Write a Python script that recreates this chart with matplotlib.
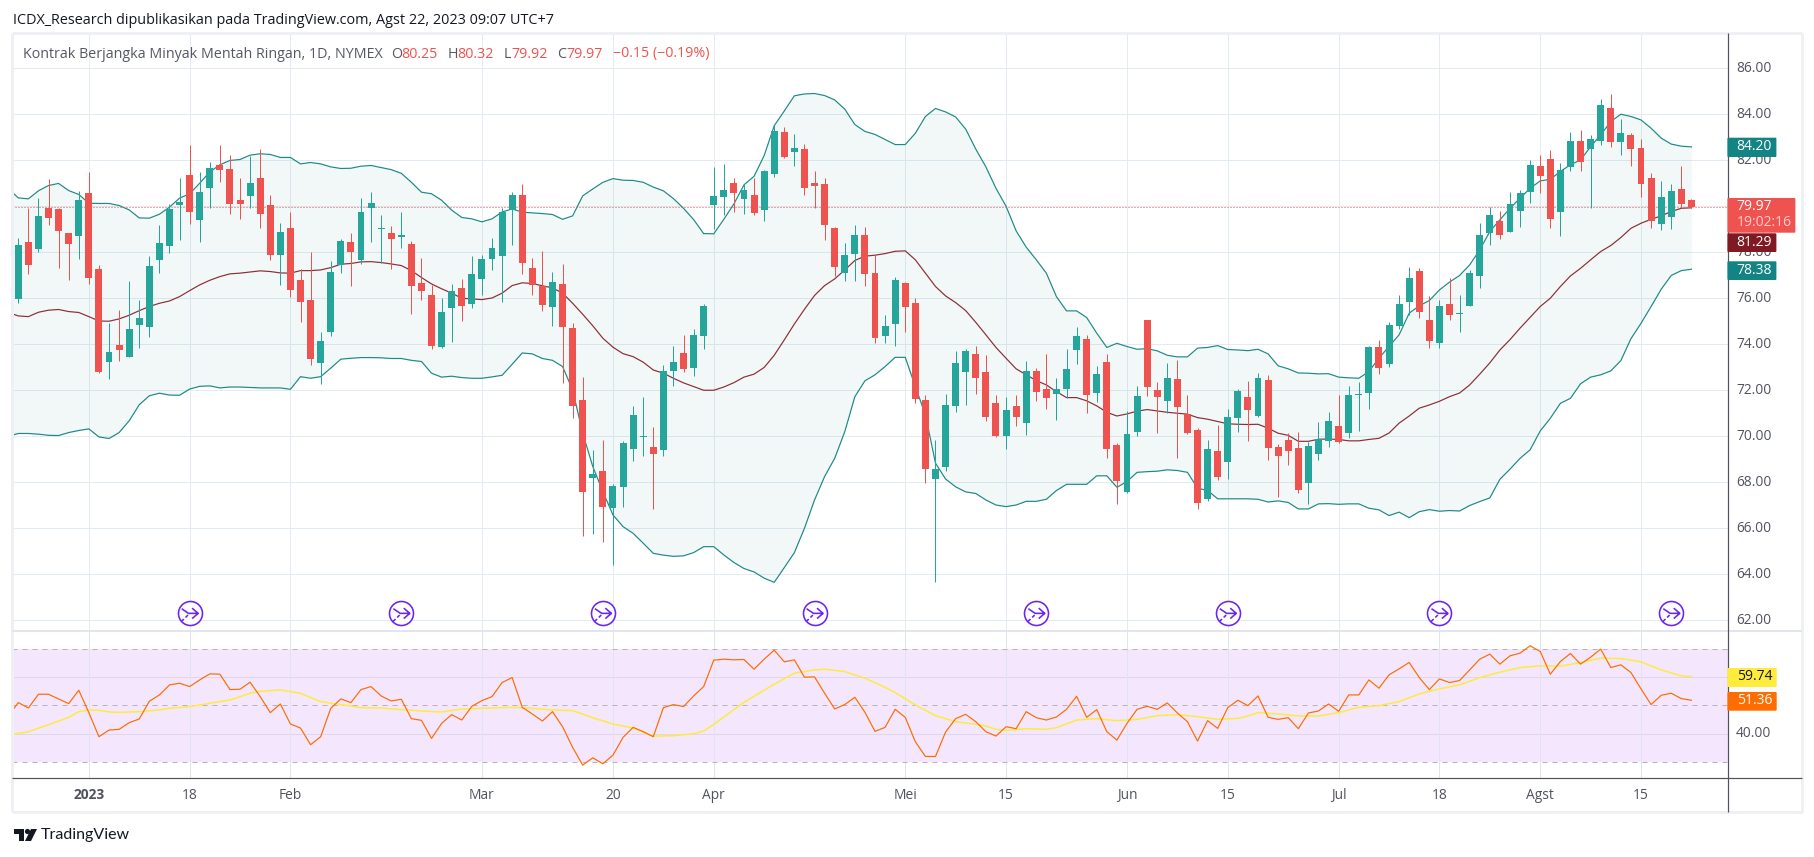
import matplotlib
matplotlib.use("Agg")
import matplotlib.pyplot as plt
import numpy as np
from matplotlib.patches import FancyBboxPatch, Polygon, Circle
from matplotlib.lines import Line2D
from matplotlib.path import Path
from matplotlib.transforms import Affine2D

opens = [75.97,78.45,78.14,79.93,79.88,78.84,78.71,80.58,77.28,73.23,73.97,73.45,74.84,74.75,77.67,78.28,80.06,81.36,79.41,80.80,
81.80,81.62,80.28,80.45,81.23,80.06,77.88,79.06,76.80,75.93,73.19,74.54,77.45,78.45,77.67,79.93,79.02,78.84,78.67,78.36,
76.67,76.14,73.88,75.58,76.45,75.75,76.84,77.71,77.84,79.84,80.49,77.32,76.54,75.62,76.62,74.71,71.58,68.19,68.49,66.88,
67.80,69.45,69.95,69.54,69.41,72.84,73.62,72.97,74.36,80.06,80.41,81.01,80.32,80.49,79.84,81.41,83.23,82.36,82.49,81.01,
80.97,79.06,77.10,77.93,78.75,77.10,74.36,74.88,76.67,75.80,71.58,68.14,68.67,71.32,72.80,73.58,72.80,71.45,70.01,71.32,
70.58,72.84,72.06,71.84,72.06,73.75,74.23,71.88,73.23,69.62,67.58,70.19,75.06,72.01,71.54,72.49,70.97,70.28,67.28,69.36,
68.88,70.80,71.71,70.88,72.45,69.54,69.84,69.49,67.97,69.23,69.80,70.45,70.14,71.80,71.88,73.88,73.14,74.80,75.84,77.19,
75.06,74.06,75.75,75.32,75.67,76.97,78.84,79.36,78.88,79.80,80.62,81.75,82.06,79.75,81.71,82.84,82.49,82.84,84.28,82.80,
83.10,82.54,81.23,79.23,79.54,80.75,80.25]
highs = [78.62,79.91,80.36,81.19,79.93,78.84,80.67,81.49,77.45,74.93,75.49,76.75,75.93,77.84,79.19,80.10,81.23,82.67,81.49,81.93,
82.67,82.23,81.23,82.19,82.49,80.49,79.28,79.75,77.28,78.01,74.54,77.62,78.58,78.84,80.36,80.62,79.62,79.14,79.75,78.49,
77.75,76.58,76.01,76.62,76.84,77.84,77.88,78.62,79.93,80.62,80.97,77.75,78.06,77.14,77.49,74.93,72.58,69.41,69.84,67.93,
69.80,71.32,71.71,70.41,73.10,73.93,74.41,74.67,75.75,81.71,81.84,81.23,80.97,81.23,81.58,83.54,83.45,83.14,82.71,81.54,
81.23,79.10,78.41,79.19,79.10,77.88,75.28,76.93,76.71,76.00,71.80,69.84,71.84,73.71,73.80,73.93,73.54,71.80,71.71,71.80,
73.28,72.97,73.58,72.54,73.80,74.75,74.41,73.06,73.58,69.71,71.10,72.19,75.06,72.36,73.19,73.32,71.80,70.36,69.84,70.49,
71.19,72.06,72.41,72.75,72.67,69.67,70.14,70.19,69.75,70.62,71.06,71.80,72.19,72.36,73.93,74.19,74.97,76.14,77.36,77.32,
76.10,75.93,76.88,76.14,77.23,79.28,79.97,79.80,80.62,80.71,82.01,82.23,82.45,81.88,83.23,83.32,83.10,84.67,84.88,83.80,
83.19,82.93,81.45,81.10,80.97,81.75,80.32]
lows = [75.80,77.06,78.01,79.19,77.32,76.80,77.71,76.62,72.75,72.49,73.28,73.45,73.84,74.32,77.10,77.97,78.54,79.23,78.45,79.93,
81.06,79.67,79.45,79.93,79.06,77.67,76.58,76.06,74.97,73.10,72.28,74.36,77.10,76.54,77.49,78.45,77.54,77.28,78.19,75.32,
75.93,73.80,73.84,74.10,75.01,75.58,76.14,77.23,75.84,78.32,77.06,76.14,75.45,74.80,72.32,70.80,65.67,65.75,65.41,64.41,
66.93,68.93,69.14,66.84,69.14,72.19,72.80,72.62,73.80,79.01,79.62,79.75,79.67,79.62,79.36,81.28,82.10,81.75,80.49,79.93,
78.54,76.97,76.75,76.75,76.54,74.06,74.06,73.93,74.54,71.45,67.97,63.67,68.49,71.06,71.36,71.84,70.67,69.97,69.45,70.45,
70.06,71.54,71.19,70.71,71.67,73.14,71.01,71.49,69.06,67.06,67.54,70.01,71.75,70.14,71.01,69.06,70.10,66.84,67.19,68.10,
68.14,70.19,69.80,70.84,68.97,67.36,68.75,67.54,67.06,68.97,69.54,69.71,69.93,70.23,71.19,72.71,73.01,74.67,75.28,75.14,
73.84,73.84,75.06,74.54,75.67,76.45,78.32,78.58,78.88,79.10,80.14,80.58,79.06,78.71,81.54,81.54,79.93,82.67,82.58,82.23,
81.75,80.41,79.06,78.97,79.01,79.93,79.92]
closes = [78.32,77.45,79.58,79.49,78.93,78.36,80.28,76.88,72.80,73.67,73.75,74.67,75.14,77.41,78.41,79.88,80.19,79.75,80.62,81.67,
81.58,80.10,80.10,81.01,79.67,77.88,78.88,76.36,75.84,73.36,74.14,77.14,78.49,78.01,79.75,80.14,79.05,78.58,78.75,76.54,
76.32,73.93,75.41,76.32,75.67,77.06,77.71,78.19,79.75,80.49,77.54,76.58,75.71,76.71,74.75,71.32,67.58,68.36,66.93,67.84,
69.71,70.93,69.97,69.23,72.84,73.23,72.93,74.41,75.67,80.45,80.71,80.58,80.71,79.71,81.54,83.28,82.14,82.54,80.80,80.88,
79.19,77.36,77.88,78.75,77.06,74.28,74.80,76.80,75.62,71.62,68.58,68.58,71.36,73.19,73.71,72.54,70.84,70.01,71.14,70.84,
72.84,71.93,71.67,72.06,72.93,74.36,71.80,72.71,69.45,68.06,70.10,71.75,72.14,71.71,72.54,71.28,70.14,67.10,69.45,68.23,
70.84,71.97,71.14,72.54,69.49,69.14,69.36,67.67,69.58,69.88,70.67,69.75,71.80,71.83,73.88,72.97,74.84,75.75,76.88,75.41,
74.14,75.67,75.28,75.32,77.10,78.75,79.62,78.75,80.10,80.58,81.80,81.32,79.45,81.58,82.84,81.93,82.93,84.41,82.80,83.19,
82.49,80.97,79.36,80.41,80.67,80.10,79.97]

band_upper = [80.77,80.36,80.32,80.67,80.90,80.99,80.68,80.51,80.13,80.12,80.12,80.03,79.84,79.49,79.48,79.65,79.96,80.35,80.54,81.00,81.49,
81.80,81.99,82.03,82.22,82.28,82.25,82.12,82.12,81.84,81.90,81.84,81.71,81.64,81.65,81.74,81.77,81.68,81.59,81.43,81.04,
80.61,80.54,80.26,79.83,79.51,79.45,79.32,79.45,79.75,79.88,79.74,79.71,79.68,79.64,79.43,79.58,80.45,80.75,81.04,81.20,
81.13,81.12,81.04,80.83,80.67,80.33,79.91,79.42,78.81,78.80,79.43,80.10,80.93,81.30,82.20,83.50,84.14,84.80,84.88,84.90,
84.81,84.62,84.22,83.55,83.25,83.12,82.90,82.68,82.68,83.17,83.90,84.25,84.10,83.88,83.35,82.48,81.71,80.78,80.00,78.93,
78.22,77.67,77.09,76.07,75.45,75.45,75.16,74.48,73.86,74.04,73.90,73.78,73.81,73.71,73.52,73.45,73.45,73.83,73.86,73.94,
73.77,73.75,73.72,73.78,73.58,73.06,72.93,72.75,72.74,72.71,72.72,72.57,72.54,72.52,72.81,73.40,73.90,74.41,75.35,75.67,
75.90,76.36,76.70,76.99,77.45,78.10,78.90,79.41,79.91,80.35,80.78,81.10,81.17,81.51,81.80,82.01,82.59,83.10,83.68,84.00,
83.90,83.75,83.39,82.96,82.70,82.61,82.58]
band_basis = [75.38,75.23,75.20,75.39,75.48,75.51,75.42,75.38,75.20,75.01,75.00,75.10,75.26,75.46,75.64,75.78,75.88,76.07,76.33,76.58,76.78,
76.94,77.06,77.09,77.14,77.19,77.16,77.10,77.09,77.20,77.20,77.23,77.33,77.48,77.51,77.58,77.59,77.55,77.49,77.42,77.20,
76.90,76.62,76.41,76.22,76.00,75.97,75.94,76.01,76.22,76.55,76.67,76.64,76.54,76.45,76.22,75.78,75.30,74.80,74.26,73.87,
73.59,73.46,73.22,72.88,72.74,72.52,72.32,72.16,72.00,72.00,72.14,72.33,72.57,72.70,72.99,73.52,74.19,74.88,75.52,76.12,
76.55,76.84,77.23,77.64,77.83,77.87,77.94,78.04,78.06,77.67,77.09,76.51,76.10,75.81,75.46,74.95,74.41,73.86,73.39,72.93,
72.67,72.42,72.23,71.94,71.68,71.68,71.54,71.32,71.04,70.88,70.97,71.09,71.16,71.10,71.04,71.00,70.96,70.81,70.74,70.64,
70.54,70.52,70.51,70.52,70.35,70.13,70.04,69.78,69.78,69.87,69.88,69.86,69.80,69.80,69.86,69.91,70.14,70.57,70.88,71.22,
71.36,71.52,71.72,71.88,72.23,72.70,73.19,73.75,74.20,74.70,75.17,75.64,76.00,76.51,76.97,77.30,77.67,78.03,78.29,78.64,
79.04,79.26,79.43,79.58,79.77,79.91,79.93]
band_lower = [70.00,70.12,70.12,70.09,70.04,70.03,70.16,70.25,70.32,69.97,69.90,70.16,70.67,71.37,71.76,71.87,71.79,71.78,72.05,72.17,72.19,
72.10,72.14,72.14,72.12,72.10,72.10,72.10,72.04,72.59,72.52,72.59,72.96,73.35,73.39,73.42,73.42,73.41,73.38,73.38,73.30,
73.25,72.74,72.57,72.61,72.55,72.52,72.52,72.58,72.65,73.13,73.62,73.58,73.38,73.30,73.03,72.01,70.13,68.68,67.59,66.58,
66.07,65.78,65.35,64.91,64.83,64.78,64.80,64.94,65.20,65.20,64.84,64.51,64.25,64.10,63.83,63.65,64.29,64.94,66.00,67.23,
68.25,69.04,70.20,71.72,72.41,72.67,73.03,73.43,73.43,72.16,70.93,68.83,68.14,67.80,67.58,67.51,67.23,67.01,66.94,67.01,
67.17,67.17,67.26,67.64,67.91,67.91,67.91,68.28,68.28,67.78,68.03,68.43,68.46,68.48,68.54,68.51,68.43,67.74,67.64,67.28,
67.28,67.28,67.28,67.26,67.14,67.19,67.12,66.84,66.84,67.06,67.07,67.04,67.06,67.06,66.87,66.80,66.55,66.70,66.46,66.72,
66.81,66.74,66.77,66.75,66.99,67.16,67.32,68.13,68.57,69.04,69.41,70.23,70.78,71.43,71.65,72.28,72.57,72.67,72.84,73.29,
74.24,74.91,75.64,76.39,76.99,77.20,77.26]

rsi = [46.2,50.95,49.05,53.91,53.91,52.25,50.59,55.33,47.40,38.88,41.24,41.48,43.85,45.15,51.42,53.67,57.22,57.81,56.63,58.99,61.12,
61.01,55.56,55.68,58.17,53.08,47.40,50.47,43.37,41.95,36.04,38.88,48.93,52.25,50.95,55.56,56.63,53.31,51.54,52.13,45.27,
44.67,38.28,43.61,46.69,44.79,49.64,51.66,53.08,58.05,59.82,49.29,46.92,44.44,47.75,42.43,35.09,28.82,31.42,29.29,32.37,
38.64,42.19,40.65,38.88,49.17,50.24,49.53,53.31,56.63,65.98,66.33,66.09,66.21,62.78,66.33,69.53,65.38,66.09,59.94,60.06,
54.26,48.70,50.24,52.84,47.51,40.77,42.19,48.58,45.74,37.10,31.89,31.89,40.53,45.27,46.80,44.20,40.65,39.11,42.43,41.72,
47.75,45.62,44.79,45.86,48.58,53.20,45.74,48.46,40.65,37.69,43.61,48.58,49.64,48.58,50.83,47.28,44.20,37.34,44.56,41.83,
49.17,51.78,49.88,53.31,45.74,45.03,45.62,41.72,47.28,47.99,50.47,47.87,53.67,53.67,58.99,56.04,60.77,62.90,65.15,59.82,
55.56,59.35,58.05,58.76,62.54,66.33,68.11,64.56,67.51,68.46,71.07,69.05,61.01,65.50,68.34,64.56,67.04,69.88,63.37,64.32,
61.60,55.80,50.24,53.55,54.26,52.37,51.78]
rsi_ma_bars = [-1,1,3,5,6,7,8,9,10,12,14,15,17,19,21,23,24,26,28,30,32,34,36,38,40,42,44,46,49,51,53,55,57,59,61,63,65,67,68,69,72,75,77,79,80,82,84,86,87,
89,91,93,95,96,97,98,100,102,103,105,107,109,111,113,115,117,119,121,122,123,125,127,129,131,133,135,137,139,141,143,145,147,149,151,153,155,157,159,161,163,165,166]
rsi_ma = [39.47,40.65,43.14,45.74,47.75,48.34,48.22,47.63,47.51,47.75,48.34,48.93,49.53,50.71,51.89,54.26,54.97,55.44,54.26,51.30,50.24,49.17,49.05,48.46,47.99,47.63,48.70,48.93,49.29,48.93,48.34,48.11,45.62,43.37,41.95,39.11,39.23,39.94,40.89,43.25,51.07,57.46,61.36,62.54,62.78,61.95,59.59,56.39,54.50,
50.12,46.33,44.20,43.25,42.66,41.48,41.12,41.72,41.48,42.07,44.79,45.27,44.56,45.03,46.33,46.69,45.98,45.03,45.38,46.21,47.40,46.92,46.21,46.21,47.40,49.29,49.88,51.30,54.02,55.80,57.22,59.82,61.72,63.37,63.96,63.85,65.15,66.69,66.57,65.38,62.54,60.41,60.18]

price_ticks = [62,64,66,68,70,72,74,76,78,80,82,84,86]
time_tick_bars = [7,17,27,46,59,69,88,98,110,120,131,141,151,161]
time_tick_labels = ['2023','18','Feb','Mar','20','Apr','Mei','15','Jun','15','Jul','18','Agst','15']
event_bars = [17,38,58,79,101,120,141,164]
last_price = 79.97

UP, DOWN = '#26A69A', '#EF5350'
GRID = '#E1EBF1'
AXC = '#50535E'
BANDC = '#1E8A85'
W, H = 1815, 857
plt.rcParams['font.family'] = ['Open Sans', 'DejaVu Sans']
plt.rcParams['ytick.alignment'] = 'center'

fig = plt.figure(figsize=(W/100, H/100), dpi=100, facecolor='white')
T = Affine2D().scale(1/W, -1/H).translate(0, 1) + fig.transFigure
L, R, TOP, SEP, BOT = 12, 1727.7, 33, 631.3, 778.3
ax = fig.add_axes([L/W, 1-SEP/H, (R-L)/W, (SEP-TOP)/H])
ax2 = fig.add_axes([L/W, 1-BOT/H, (R-L)/W, (BOT-SEP)/H])
xlim = (-0.625, 169.6)
ax.set_xlim(xlim); ax2.set_xlim(xlim)
ax.set_ylim(61.52, 87.53); ax2.set_ylim(24.16, 76.19)
PX = 0.72

n = len(closes)
xs = np.arange(n)
bx = np.arange(-1, n)

for a in (ax, ax2):
    for s in a.spines.values():
        s.set_visible(False)
    a.set_axisbelow(True)
    a.tick_params(length=0, colors=AXC, labelsize=9.9)
    a.yaxis.tick_right()
    a.set_xticks(time_tick_bars)
    a.grid(True, color=GRID, lw=1.0*PX)

ax.set_yticks(price_ticks, [f'{v:.2f}' for v in price_ticks])
ax.tick_params(labelbottom=False, pad=6)
ax2.set_yticks([40, 60], ['40.00', '60.00'])
ax2.set_xticklabels(time_tick_labels)
ax2.tick_params(axis='y', pad=6)
ax2.tick_params(axis='x', pad=7)
ax2.get_xticklabels()[0].set_fontweight('bold')

# Bollinger bands
ax.fill_between(bx, band_lower, band_upper, color='#138484', alpha=0.05, lw=0, zorder=1)
ax.plot(bx, band_upper, color=BANDC, lw=1.2*PX, zorder=2)
ax.plot(bx, band_lower, color=BANDC, lw=1.2*PX, zorder=2)
ax.plot(bx, band_basis, color='#801922', lw=1.2*PX, alpha=0.9, zorder=2)
ax.axhline(last_price, color=DOWN, lw=1.0*PX, ls=(0, (1, 2)), zorder=2.5)

# Candles
o, h, l, c = map(np.array, (opens, highs, lows, closes))
cols = [UP if cc >= oo else DOWN for oo, cc in zip(o, c)]
wicks = ax.vlines(xs, l, h, colors=cols, lw=1.0*PX, zorder=3)
wicks.set_snap(True)
tops, bots = np.maximum(o, c), np.minimum(o, c)
ax.bar(xs, np.maximum(tops-bots, 0.045), bottom=bots, width=0.69, color=cols, lw=0, zorder=4)

# Event markers
verts = [(-.58,.34),(-.08,0),(.62,0),(.18,.38),(.62,0),(.18,-.38),(-.62,-.6),(-.42,-.42),(-.3,-.3),(-.12,-.12)]
codes = [Path.MOVETO,Path.LINETO,Path.LINETO,Path.MOVETO,Path.LINETO,Path.LINETO,Path.MOVETO,Path.LINETO,Path.MOVETO,Path.LINETO]
ev_y = [62.3]*len(event_bars)
ax.scatter(event_bars, ev_y, s=(24*PX)**2, facecolor='white', edgecolor='#6A25F5', lw=1.6*PX, zorder=6, clip_on=False)
ax.scatter(event_bars, ev_y, s=(17*PX)**2, marker=Path(verts, codes), facecolor='none', edgecolor='#6A25F5', lw=1.6*PX, zorder=7)

# RSI pane
ax2.axhspan(30, 70, facecolor='#F4E6FD', lw=0, zorder=0.5)
for v in (40, 60):
    ax2.axhline(v, color='#DDD6EE', lw=1.0*PX, zorder=1)
for v in time_tick_bars:
    ax2.axvline(v, color='#E0E4F0', lw=1.0*PX, zorder=1)
for v in (70, 50, 30):
    ax2.axhline(v, color='#B7B2BE', lw=1.0*PX, ls=(0, (5, 5)), zorder=1.5)
ax2.plot(rsi_ma_bars, rsi_ma, color='#FFEB3B', lw=1.5*PX, zorder=2)
ax2.plot(bx, rsi, color='#FF6D00', lw=1.2*PX, zorder=3)

# Frame
def hv(x0, y0, x1, y1, color, lw):
    fig.add_artist(Line2D([x0, x1], [y0, y1], transform=T, color=color, lw=lw*PX, solid_capstyle='butt'))
hv(12, 33, 1802, 33, '#EEF0F4', 3)
hv(12, 33, 12, 812, '#EEF0F4', 3)
hv(1802, 33, 1802, 812, '#EEF0F4', 3)
hv(12, 812, 1802, 812, '#EEF0F4', 3)
hv(12, SEP, 1802, SEP, '#E3E5EC', 2)
hv(R, 33, R, 812, AXC, 1.2)
hv(12, BOT, 1802, BOT, AXC, 1.2)

# Price labels
def box(x1, y0, y1, color):
    fig.add_artist(FancyBboxPatch((R+.7, y0+1), x1-R-2, y1-y0-2, boxstyle='round,pad=1', transform=T,
                                  facecolor=color, edgecolor='none', zorder=8))
def lab(x, y, s, color, **k):
    return fig.text(x, y, s, transform=T, color=color, ha='left', va='center', zorder=9, **k)
LS = 10
box(1776.7, 137.7, 157, '#138484');  lab(1736.5, 147, '84.20', 'white', fontsize=LS)
box(1795.7, 198, 232.7, '#EF5350');  lab(1736.5, 207, '79.97', 'white', fontsize=LS); lab(1736.5, 223, '19:02:16', '#FBD0CF', fontsize=LS)
box(1776.7, 233.3, 252, '#801922');  lab(1736.5, 242, '81.29', 'white', fontsize=LS)
box(1776.7, 261.3, 280, '#138484');  lab(1736.5, 270, '78.38', 'white', fontsize=LS)
box(1777, 668, 687, '#FFEB3B');      lab(1737, 677, '59.74', '#131722', fontsize=LS)
box(1777, 692, 710.7, '#FF6D00');    lab(1737, 701, '51.36', 'white', fontsize=LS)

# Header and legend
lab(13, 20, 'ICDX_Research dipublikasikan pada TradingView.com, Agst 22, 2023 09:07 UTC+7', '#131722', fontsize=10.4)
LF = 10.25
lab(23.5, 54, 'Kontrak Berjangka Minyak Mentah Ringan, 1D, NYMEX', '#555861', fontsize=LF)
for x, s, col in [(391.5,'O','#555861'),(401,'80.25',DOWN),(447.3,'H','#555861'),(457,'80.32',DOWN),
                  (503.5,'L','#555861'),(511,'79.92',DOWN),(557.3,'C','#555861'),(566,'79.97',DOWN),
                  (613,'−0.15 (−0.19%)',DOWN)]:
    lab(x, 54, s, col, fontsize=LF)

# Logo
LOGO = '#131722'
fig.add_artist(Polygon([(14,829),(24,829),(24,841),(19,841),(19,834),(14,834)], closed=True, transform=T, fc=LOGO, ec='none'))
fig.add_artist(Circle((27.5,831.5), 2.6, transform=T, fc=LOGO, ec='none'))
fig.add_artist(Polygon([(31,829),(37,829),(31,841),(25,841)], closed=True, transform=T, fc=LOGO, ec='none'))
lab(41, 835.5, 'TradingView', '#131722', fontsize=11.5, family=['Lato', 'DejaVu Sans'])

fig.savefig('out.png', dpi=100, facecolor='white')
